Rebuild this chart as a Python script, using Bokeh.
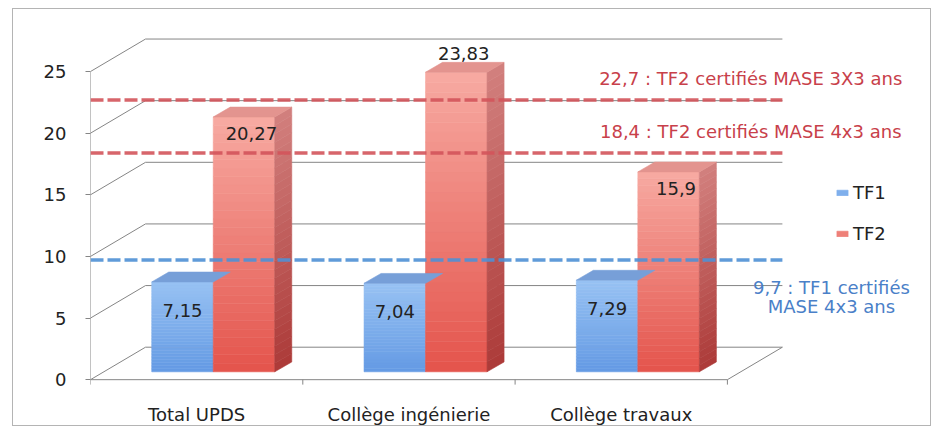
from bokeh.plotting import figure
from bokeh.models import Range1d, FixedTicker, Legend, LegendItem
from bokeh.embed import file_html
from bokeh.resources import INLINE
from bokeh.core.properties import value

# ---------------- data ----------------
categories = ["Total UPDS", "Collège ingénierie", "Collège travaux"]
tf1 = [7.15, 7.04, 7.29]
tf2 = [20.27, 23.83, 15.9]
tf1_labels = ["7,15", "7,04", "7,29"]
tf2_labels = ["20,27", "23,83", "15,9"]
y_ticks = [0, 5, 10, 15, 20, 25]
thresholds = [22.7, 18.4, 9.7]
threshold_series = ["TF2", "TF2", "TF1"]
threshold_texts = ["22,7 : TF2 certifiés MASE 3X3 ans",
                   "18,4 : TF2 certifiés MASE 4x3 ans",
                   "9,7 : TF1 certifiés\nMASE 4x3 ans"]

# ---------------- geometry / style ----------------
FONT = value("DejaVu Sans")
W, H = 919, 418
LEFT = 77
BOTTOM = 30
PXU = 212.3          # px per category unit
PXV = 12.52          # px per value unit
FRAME_W = W - LEFT
FRAME_H = H - BOTTOM
V_BOTTOM = -12 / PXV
V_TOP = V_BOTTOM + FRAME_H / PXV
YMAX = y_ticks[-1]
N = len(categories)

WALL_DX = 55 / PXU
WALL_DV = 33 / PXV
BAR_SHIFT = 16.6 / PXU
BAR_BASE = 8 / PXV
BAR_W = 61.5 / PXU
TOP_DX = 17 / PXU
TOP_DV = 10 / PXV
K = 1.02

GRID = "#858585"
BLUE_BOT, BLUE_TOP = (100, 154, 228), (152, 194, 243)
RED_BOT, RED_TOP = (228, 84, 76), (247, 170, 162)
RSIDE_BOT, RSIDE_TOP = (172, 58, 56), (210, 128, 126)
BLUE_TOPFACE = "#779fd8"
RED_TOPFACE = "#e3948f"
RED_LINE = "#d3545b"
BLUE_LINE = "#4f90d5"
RED_TEXT = "#c8404a"
BLUE_TEXT = "#4a80c8"
TEXT = "#222222"


def mix(c0, c1, t):
    return "#%02x%02x%02x" % tuple(int(round(a + (b - a) * t)) for a, b in zip(c0, c1))


p = figure(width=W, height=H, output_backend="svg", toolbar_location=None,
           x_range=Range1d(0, FRAME_W / PXU), y_range=Range1d(V_BOTTOM, V_TOP),
           min_border_left=LEFT, min_border_right=0, min_border_top=0,
           min_border_bottom=BOTTOM, x_axis_location="below")
p.styles = {"border": "1px solid #b4b4b4", "margin-left": "12px", "margin-top": "8px"}
p.outline_line_color = None
p.background_fill_color = "white"
p.border_fill_color = "white"
p.xgrid.visible = False
p.ygrid.visible = False

# y axis
ya = p.yaxis[0]
ya.ticker = FixedTicker(ticks=y_ticks)
ya.axis_line_color = None
ya.major_tick_out = 5
ya.major_tick_in = 0
ya.major_tick_line_color = GRID
ya.minor_tick_line_color = None
ya.major_label_standoff = 19
ya.major_label_text_font = "DejaVu Sans"
ya.major_label_text_font_size = "18px"
ya.major_label_text_color = TEXT

# x axis (category labels)
xa = p.xaxis[0]
xa.ticker = FixedTicker(ticks=[i + 0.5 for i in range(N)])
xa.major_label_overrides = {i + 0.5: c for i, c in enumerate(categories)}
xa.axis_line_color = None
xa.major_tick_line_color = None
xa.minor_tick_line_color = None
xa.major_label_standoff = 6
xa.major_label_text_font = "DejaVu Sans"
xa.major_label_text_font_size = "18px"
xa.major_label_text_color = TEXT

# ---------------- 3D frame: walls and floor ----------------
p.segment(x0=[0] * len(y_ticks), y0=y_ticks,
          x1=[WALL_DX] * len(y_ticks), y1=[t + WALL_DV for t in y_ticks],
          line_color=GRID, line_width=1)
p.segment(x0=[WALL_DX] * len(y_ticks), y0=[t + WALL_DV for t in y_ticks],
          x1=[N + WALL_DX] * len(y_ticks), y1=[t + WALL_DV for t in y_ticks],
          line_color=GRID, line_width=1)
p.segment(x0=[0, 0, N], y0=[0, 0, 0], x1=[0, N, N + WALL_DX], y1=[YMAX, 0, WALL_DV],
          line_color=GRID, line_width=1)
p.segment(x0=list(range(N + 1)), y0=[0] * (N + 1), x1=list(range(N + 1)),
          y1=[-5 / PXV] * (N + 1), line_color=GRID, line_width=1)

# ---------------- bars ----------------
STRIPS = 30
front = {"TF1": dict(l=[], r=[], b=[], t=[], c=[]), "TF2": dict(l=[], r=[], b=[], t=[], c=[])}
sx, sy, sc = [], [], []
tx, ty, tc = [], [], []
for i in range(N):
    c = i + 0.5 + BAR_SHIFT
    for key, val, left, right, cb, ct in (("TF1", tf1[i], c - BAR_W, c, BLUE_BOT, BLUE_TOP),
                                           ("TF2", tf2[i], c, c + BAR_W, RED_BOT, RED_TOP)):
        b = BAR_BASE
        t = BAR_BASE + val * K
        d = front[key]
        for j in range(STRIPS):
            d["l"].append(left)
            d["r"].append(right)
            d["b"].append(b + (t - b) * j / STRIPS)
            d["t"].append(b + (t - b) * (j + 1) / STRIPS)
            d["c"].append(mix(cb, ct, (j + 0.5) / STRIPS))
    r = c + BAR_W
    b = BAR_BASE
    t = BAR_BASE + tf2[i] * K
    for j in range(STRIPS):
        y0 = b + (t - b) * j / STRIPS
        y1 = b + (t - b) * (j + 1) / STRIPS
        sx.append([r, r + TOP_DX, r + TOP_DX, r])
        sy.append([y0, y0 + TOP_DV, y1 + TOP_DV, y1])
        sc.append(mix(RSIDE_BOT, RSIDE_TOP, (j + 0.5) / STRIPS))
    tb = BAR_BASE + tf1[i] * K
    tx.append([c - BAR_W, c, c + TOP_DX, c - BAR_W + TOP_DX])
    ty.append([tb, tb, tb + TOP_DV, tb + TOP_DV])
    tc.append(BLUE_TOPFACE)
    tx.append([c, c + BAR_W, c + BAR_W + TOP_DX, c + TOP_DX])
    ty.append([t, t, t + TOP_DV, t + TOP_DV])
    tc.append(RED_TOPFACE)

rend = {}
for key, d in front.items():
    rend[key] = p.quad(left=d["l"], right=d["r"], bottom=d["b"], top=d["t"],
                       fill_color=d["c"], line_color=d["c"], line_width=0.6)
p.patches(xs=sx, ys=sy, fill_color=sc, line_color=sc, line_width=0.6)
p.patches(xs=tx, ys=ty, fill_color=tc, line_color=tc, line_width=0.6)

# ---------------- threshold dashed lines ----------------
for thr, ser in zip(thresholds, threshold_series):
    p.line(x=[0, N + WALL_DX], y=[thr, thr],
           line_color=RED_LINE if ser == "TF2" else BLUE_LINE,
           line_width=3.5, line_dash="13 4", line_alpha=0.9)

ann_x, ann_y, ann_t, ann_c = [], [], [], []
for thr, ser, txt in zip(thresholds, threshold_series, threshold_texts):
    if ser == "TF2":
        ann_x.append(3.11)
        ann_y.append(thr + 1.7)
        ann_c.append(RED_TEXT)
    else:
        ann_x.append(3.49)
        ann_y.append(thr - 3.0)
        ann_c.append(BLUE_TEXT)
    ann_t.append(txt)
p.text(x=ann_x, y=ann_y, text=ann_t, text_color=ann_c, text_font=FONT,
       text_font_size="18px", text_align="center", text_baseline="middle",
       text_line_height=0.9)

# ---------------- data labels ----------------
lx, ly, lt = [], [], []
for i in range(N):
    c = i + 0.5 + BAR_SHIFT
    t1 = BAR_BASE + tf1[i] * K
    lx.append(c - BAR_W / 2)
    ly.append(t1 - 2.3)
    lt.append(tf1_labels[i])
    t2 = BAR_BASE + tf2[i] * K
    lx.append(c + BAR_W / 2 + 0.035)
    if tf2[i] + 1.5 > YMAX:
        ly.append(t2 + 1.5)
    else:
        ly.append(t2 - 1.35)
    lt.append(tf2_labels[i])
p.text(x=lx, y=ly, text=lt, text_color=TEXT, text_font=FONT,
       text_font_size="18px", text_align="center", text_baseline="middle")

# ---------------- legend ----------------
legend = Legend(items=[LegendItem(label="TF1", renderers=[rend["TF1"]], index=STRIPS // 2),
                       LegendItem(label="TF2", renderers=[rend["TF2"]], index=STRIPS // 2)],
                location=(745, 147), orientation="vertical",
                glyph_width=14, glyph_height=7, label_height=20, spacing=20,
                label_standoff=4, padding=0, margin=0,
                label_text_font="DejaVu Sans", label_text_font_size="18px",
                label_text_color=TEXT,
                background_fill_alpha=0, border_line_alpha=0)
p.add_layout(legend, "center")

open("out.html", "w").write(file_html(p, INLINE))
